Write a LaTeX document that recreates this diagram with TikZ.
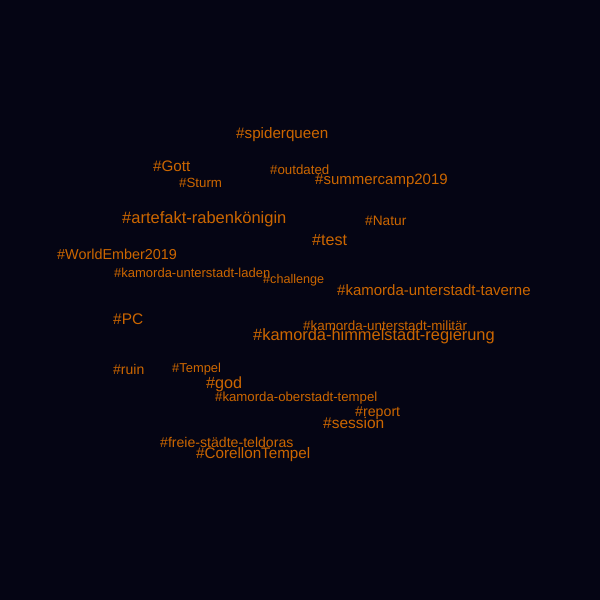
\documentclass[tikz,border=0pt]{standalone}
\usepackage{fontspec}
\setmainfont{Liberation Sans}
\definecolor{cloudbg}{RGB}{5,5,20}
\definecolor{tagorange}{RGB}{204,102,0}
\begin{document}
\begin{tikzpicture}[x=1pt,y=-1pt,
    tag/.style={anchor=base west, inner sep=0pt, text=tagorange,
      font=\fontsize{#1}{#1}\selectfont}]
  \useasboundingbox (0,0) rectangle (600,600);
  \fill[cloudbg] (-2,-2) rectangle (602,602);
  \path
    (236,138) node[tag=15.2] (spiderqueen) {\#spiderqueen}
    (153,171) node[tag=15.2] (gott) {\#Gott}
    (270,174) node[tag=13.3] (outdated) {\#outdated}
    (179,187) node[tag=13.3] (sturm) {\#Sturm}
    (315,184) node[tag=15] (summercamp) {\#summercamp2019}
    (122,223) node[tag=16.5] (artefakt) {\#artefakt-rabenkönigin}
    (365,225) node[tag=13.7] (natur) {\#Natur}
    (312,245) node[tag=16.1] (test) {\#test}
    (57,259) node[tag=14.4] (worldember) {\#WorldEmber2019}
    (114,277) node[tag=13] (laden) {\#kamorda-unterstadt-laden}
    (263,283) node[tag=12.6] (challenge) {\#challenge}
    (337,295) node[tag=15] (taverne) {\#kamorda-unterstadt-taverne}
    (113,324) node[tag=15.4] (pc) {\#PC}
    (303,330) node[tag=13.4] (militaer) {\#kamorda-unterstadt-militär}
    (253,340) node[tag=16.4] (regierung) {\#kamorda-himmelstadt-regierung}
    (113,374) node[tag=14] (ruin) {\#ruin}
    (172,372) node[tag=12.9] (tempel) {\#Tempel}
    (206,388) node[tag=16.2] (god) {\#god}
    (215,401) node[tag=13.2] (oberstadt) {\#kamorda-oberstadt-tempel}
    (355,416) node[tag=14.2] (report) {\#report}
    (323,428) node[tag=15.5] (session) {\#session}
    (160,447) node[tag=14.1] (teldoras) {\#freie-städte-teldoras}
    (196,458) node[tag=15.2] (corellon) {\#CorellonTempel};
\end{tikzpicture}
\end{document}
